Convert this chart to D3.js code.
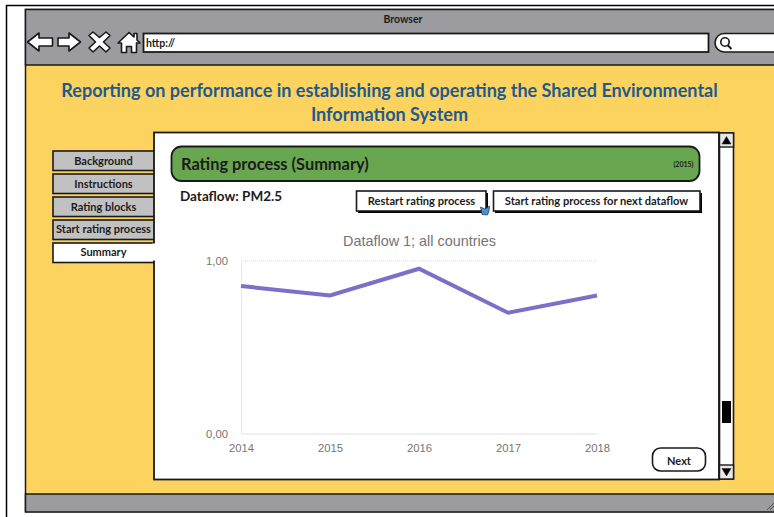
<!DOCTYPE html>
<html>
<head>
<meta charset="utf-8">
<style>
  html, body { margin: 0; padding: 0; background: #fff; overflow: hidden; }
  svg { display: block; }
  .ui { font-family: Lato, "Open Sans", sans-serif; font-weight: 700; fill: #1c1c1c; }
  .chart text { font-family: "Liberation Sans", Arial, sans-serif; fill: #757575; }
</style>
</head>
<body>
<div id="page"></div>
<script src="https://cdn.jsdelivr.net/npm/d3@7"></script>
<script>
// Chart values
const years = [2014, 2015, 2016, 2017, 2018];
const ratings = [0.855, 0.80, 0.955, 0.70, 0.80];
const yTicks = [0, 1];
const chartTitle = "Dataflow 1; all countries";

// Page texts
const navItems = ["Background", "Instructions", "Rating blocks", "Start rating process", "Summary"];
const activeNav = "Summary";
const pageTitle = ["Reporting on performance in establishing and operating the Shared Environmental", "Information System"];

const svg = d3.select("#page").append("svg").attr("width", 774).attr("height", 517);

const yellow = "#fdd35f", gray = "#9c9b9f", ink = "#1a1a1a";

function box(x, y, w, h, fill, sw, rx) {
  return svg.append("rect").attr("x", x).attr("y", y).attr("width", w).attr("height", h)
    .attr("fill", fill).attr("stroke", ink).attr("stroke-width", sw).attr("rx", rx || 0);
}
function label(x, y, str, size, anchor) {
  return svg.append("text").attr("class", "ui").attr("x", x).attr("y", y)
    .attr("font-size", size).attr("text-anchor", anchor || "middle").text(str);
}
function icon(d, fill, sw) {
  return svg.append("path").attr("d", d).attr("fill", fill).attr("stroke", ink)
    .attr("stroke-width", sw).attr("stroke-linejoin", "round");
}

// Outer sheet line
svg.append("path").attr("d", "M6.5 517V5.5H774").attr("fill", "none").attr("stroke", "#000").attr("stroke-width", 1.5);

// Browser window
svg.append("rect").attr("x", 25.5).attr("y", 9.5).attr("width", 760).attr("height", 502)
  .attr("fill", yellow).attr("stroke", ink).attr("stroke-width", 1.5);
svg.append("rect").attr("x", 25.5).attr("y", 9.5).attr("width", 760).attr("height", 55.5)
  .attr("fill", gray).attr("stroke", ink).attr("stroke-width", 1.5);
svg.append("rect").attr("x", 25.5).attr("y", 494).attr("width", 760).attr("height", 18)
  .attr("fill", gray).attr("stroke", ink).attr("stroke-width", 1.5);
label(403, 23, "Browser", 10.5);

// Toolbar icons
icon("M27.5 42L39 33V38H52.5V46H39V51Z", "#fff", 1.6);
icon("M80.5 42L69 33V38H58V46H69V51Z", "#fff", 1.6);
icon("M89 35.5L93 32L99.5 37.5L106 32L110 35.5L103.5 42L110 48L106 52L99.5 46L93 52L89 48L95.5 42Z", "#fff", 1.6);
icon("M118 43L129 32.5L134 37V33.5H137V40L140 43H136.5V52.5H131.5V46.5H126.5V52.5H121.5V43Z", "#fff", 1.6);

// Address and search fields
box(143.5, 33.5, 565, 18.5, "#fff", 1.8);
svg.append("text").attr("class", "ui").attr("x", 146).attr("y", 47).attr("font-size", 10.5).text("http://");
box(715, 33.5, 98, 18.5, "#fff", 1.6, 9.2);
svg.append("circle").attr("cx", 725).attr("cy", 42).attr("r", 4.2).attr("fill", "#fff").attr("stroke", ink).attr("stroke-width", 1.6);
svg.append("path").attr("d", "M727.5 45L731.5 49").attr("stroke", ink).attr("stroke-width", 2);

// Page title
pageTitle.forEach((line, i) => {
  svg.append("text").attr("x", 389.5).attr("y", 96.5 + i * 24)
    .attr("text-anchor", "middle").attr("font-family", "Lato, sans-serif").attr("font-weight", 700)
    .attr("font-size", 18.05).attr("fill", "#1f5a8e").text(line);
});

// Side navigation
const navY = d3.scaleBand().domain(navItems).range([151, 263]).paddingInner(0.13);
navItems.forEach(item => {
  const active = item === activeNav;
  box(53, navY(item), 104, navY.bandwidth() - 0.5, active ? "#fff" : "#c2c1c1", 1.6);
  label(103.5, navY(item) + navY.bandwidth() / 2 + 3.5, item, 11);
});

// Content panel
svg.append("rect").attr("x", 154).attr("y", 132.5).attr("width", 565).attr("height", 347)
  .attr("fill", "#fff").attr("stroke", ink).attr("stroke-width", 1.8);
// Summary tab joins the panel
svg.append("rect").attr("x", 152).attr("y", 243.5).attr("width", 5).attr("height", 17).attr("fill", "#fff");

// Scrollbar
box(719.5, 133, 14, 346, "#fff", 1.6);
box(719.5, 133, 14, 14, "#e8e8e8", 1.4);
box(719.5, 465, 14, 14, "#e8e8e8", 1.4);
icon("M726.5 136.5L731 144H722Z", "#000", 0.5);
icon("M726.5 476L722 468.5H731Z", "#000", 0.5);
svg.append("rect").attr("x", 722).attr("y", 401).attr("width", 9).attr("height", 22).attr("fill", "#000");

// Green header
box(171.5, 146.5, 528, 34.5, "#68a64f", 1.8, 10);
label(181, 169.5, "Rating process (Summary)", 16.4, "start");
label(693.5, 167, "(2015)", 7, "end");
label(180, 200.5, "Dataflow: PM2.5", 13.5, "start");

// Buttons
svg.append("rect").attr("x", 358).attr("y", 193).attr("width", 130).attr("height", 20).attr("fill", "#000");
box(356.5, 191, 129.5, 20, "#fff", 1.6);
label(421.5, 205, "Restart rating process", 11.1);
svg.append("rect").attr("x", 495).attr("y", 193).attr("width", 207).attr("height", 20).attr("fill", "#000");
box(493.5, 191, 206.5, 20, "#fff", 1.6);
label(596.5, 205, "Start rating process for next dataflow", 11.1);
icon("M480.5 207L485 209L489.5 206L489 211L487.5 215L482 214.5Z", "#4a90d9", 0.6);

box(652.5, 448, 53, 23, "#fff", 1.6, 8);
label(679, 465, "Next", 11);

// Line chart
const x = d3.scalePoint().domain(years).range([241, 597]);
const y = d3.scaleLinear().domain([0, 1]).range([433.5, 261]);
const chart = svg.append("g").attr("class", "chart");

chart.append("text").attr("x", 419.5).attr("y", 246).attr("text-anchor", "middle")
  .attr("font-size", 14.4).text(chartTitle);

const xAxis = chart.append("g").attr("transform", `translate(0,${y(0)})`)
  .call(d3.axisBottom(x).tickSize(0).tickPadding(7));
xAxis.select(".domain").attr("stroke", "#e2e2e2").attr("stroke-width", 1.2);
xAxis.selectAll("text").attr("font-size", 11.3).attr("dy", "1em");

const yAxis = chart.append("g").attr("transform", `translate(${x(2014)},0)`)
  .call(d3.axisLeft(y).tickValues(yTicks).tickSize(0).tickPadding(13)
    .tickFormat(d => d3.format(".2f")(d).replace(".", ",")));
yAxis.select(".domain").attr("stroke", "#e8e8e8");
yAxis.selectAll("text").attr("font-size", 11.3);

chart.append("line").attr("x1", x(2014)).attr("x2", x(2018)).attr("y1", y(1)).attr("y2", y(1))
  .attr("stroke", "#d9d9d9").attr("stroke-dasharray", "1 1");

const line = d3.line().x((d, i) => x(years[i])).y(d => y(d));
chart.append("path").datum(ratings).attr("d", line).attr("fill", "none")
  .attr("stroke", "#7c6fc7").attr("stroke-width", 4).attr("stroke-linejoin", "miter");

// Resize grip
svg.append("path").attr("d", "M767 510L774 503M770 510L774 506").attr("stroke", "#555").attr("stroke-width", 1);
</script>
</body>
</html>
